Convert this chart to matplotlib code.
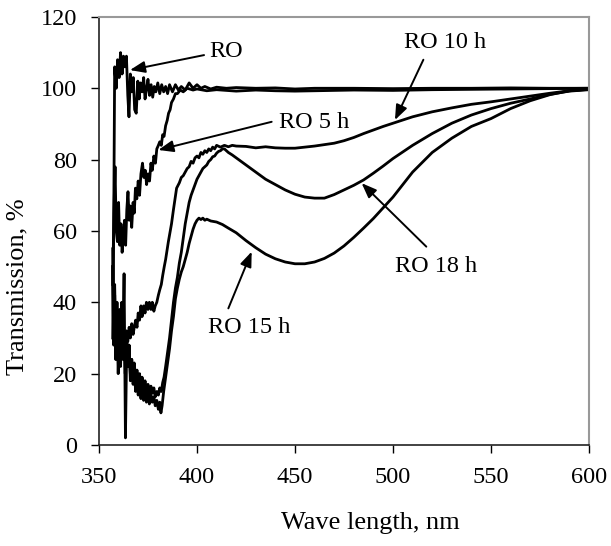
import matplotlib
matplotlib.use("Agg")
import matplotlib.pyplot as plt
import numpy as np

plt.rcParams['font.family'] = ['Liberation Serif', 'DejaVu Serif']

# --- RO (as received) ---
ro_x = [357, 357.5, 358, 358.8, 359.5, 360.3, 361, 361.8, 362.5, 363.2, 364, 364.7, 365.3,
        366, 366.8, 367.5, 368.2, 369, 369.8, 370.5, 371.2, 372, 372.8, 373.5, 374.3, 375,
        375.8, 376.6, 377.4, 378.2, 379, 380, 381, 382, 383, 384, 385, 386, 387.5, 389,
        390.5, 392, 394, 396, 398, 400, 402, 404, 407, 410, 415, 420, 430, 440, 450, 460,
        480, 500, 520, 540, 560, 580, 600]
ro_y = [30, 60, 106, 100, 108, 103, 110, 104, 109, 106, 109, 98, 92,
        104, 99, 103, 94, 93, 102, 97, 101.5, 99, 103, 97, 100, 102.5,
        98, 101, 97.5, 100.5, 99, 101.5, 98.5, 101, 99, 100.5, 98.5, 101, 99, 101,
        99.5, 100.5, 99.5, 101.5, 100, 101, 100, 100.5, 99.8, 100.3, 100, 100.2, 100, 100.1, 99.8, 100,
        100, 99.9, 100, 100, 100.1, 100, 100]

# --- RO 5 h ---
ro5_x = [357, 357.6, 358.2, 358.8, 359.4, 360, 360.6, 361.2, 361.8, 362.4, 363, 363.6, 364.2,
         364.8, 365.4, 366, 366.7, 367.4, 368, 368.6, 369.3, 370, 370.7, 371.4, 372.2, 372.9,
         373.6, 374.3, 375, 375.8, 376.5, 377.2, 378, 378.8, 379.5, 380.3, 381, 381.8, 382.5,
         383.2, 384, 384.8, 385.5, 386.3, 387, 388, 389, 390, 391.5, 393, 395, 398, 400, 405,
         410, 420, 430, 440, 450, 460, 480, 500, 520, 540, 560, 580, 600]
ro5_y = [45, 65, 78, 60, 57, 68, 56, 62, 54, 58, 63, 56, 66,
         71, 63, 67, 61, 68, 65, 72, 69, 74, 70, 76, 79, 75,
         77, 73, 76, 74, 79, 77, 81, 79, 83, 84, 85, 84, 87,
         86.5, 89.5, 91, 93, 94, 96, 97, 98.5, 98.5, 99.5, 99, 100, 99.5, 99.8, 99.3,
         99.6, 99.2, 99.5, 99.3, 99.2, 99.3, 99.5, 99.4, 99.6, 99.7, 99.8, 99.9, 100]

# --- RO 10 h ---
ro10_x = [357, 357.5, 358, 358.6, 359.2, 359.8, 360.4, 361, 361.6, 362.2, 362.8, 363.4, 364,
          364.7, 365.4, 366, 366.7, 367.4, 368, 368.7, 369.4, 370, 370.7, 371.4, 372, 372.8,
          373.5, 374.2, 375, 375.7, 376.5, 377.2, 378, 378.7, 379.5, 380.3, 381, 381.8, 382.5,
          383.3, 384, 385.4, 387, 388, 389.6, 391, 392, 393, 394, 395, 396, 397, 398, 399, 400,
          401, 402, 403, 404, 405, 406, 407, 408, 409, 410, 412, 414, 416, 418, 420, 425, 430,
          435, 440, 445, 450, 455, 460, 465, 470, 475, 480, 485, 490, 495, 500, 510, 520, 530,
          540, 550, 560, 570, 580, 590, 600]
ro10_y = [50, 28, 40, 24, 35, 27, 38, 30, 33, 27, 31, 26, 32,
          29, 33, 30, 34, 31, 33, 35, 33, 37, 35, 39, 36, 39,
          37, 40, 38, 40, 38, 40, 37.5, 39, 40, 42, 43.5, 45, 47.5,
          50, 52, 57, 62, 66, 72, 73.5, 75, 75.5, 76.5, 77.5, 78, 79.5, 79, 80.5, 81,
          80.5, 82, 81.5, 82.5, 82, 83, 82.5, 83.5, 83, 84, 83.5, 84, 83.6, 84, 83.8, 83.7, 83.3,
          83.6, 83.3, 83.2, 83.2, 83.5, 83.8, 84.2, 84.6, 85.3, 86.2, 87.3, 88.3, 89.3, 90.2, 92, 93.4, 94.5,
          95.5, 96.2, 97, 97.8, 98.6, 99.3, 99.7]

# --- RO 15 h ---
ro15_x = [357, 357.5, 358, 358.6, 359.2, 359.8, 360.4, 361, 361.6, 362.2, 362.8, 363.5, 364.2,
          364.8, 365.4, 366, 366.7, 367.4, 368, 368.7, 369.4, 370, 370.7, 371.4, 372, 372.8,
          373.5, 374.2, 375, 375.7, 376.5, 377.2, 378, 378.7, 379.5, 380.3, 381, 381.6, 382.2,
          383, 384, 385, 386, 387, 388, 389, 390, 391, 392, 393, 394, 395, 396, 397, 398, 399,
          400, 401, 402, 403, 404, 405, 407, 410, 413, 416, 420, 425, 430, 435, 440, 445, 450,
          455, 460, 465, 470, 475, 480, 485, 490, 495, 500, 510, 520, 530, 540, 550, 560, 570,
          580, 590, 600]
ro15_y = [50, 30, 42, 24, 36, 20, 32, 26, 40, 28, 48, 2, 30,
          22, 28, 18, 24, 17, 21, 15, 20, 14, 18, 13, 17, 12.5,
          16, 12, 15, 11.5, 14, 12, 13.5, 11, 12.5, 10, 12, 9, 11,
          15, 19, 23, 27, 32, 36, 41, 44, 46.5, 48.5, 50, 52, 54, 56.5, 58.5, 60.5, 62,
          63, 63.6, 63.2, 63.6, 63, 63.3, 62.8, 62.5, 61.8, 60.8, 59.5, 57.3, 55.3, 53.5, 52.2, 51.3, 50.8,
          50.8, 51.3, 52.3, 53.8, 55.8, 58.2, 60.8, 63.5, 66.5, 69.5, 76.5, 82, 86, 89.3, 91.5, 94.3, 96.5,
          98.2, 99.3, 99.8]

# --- RO 18 h ---
ro18_x = [357, 357.5, 358, 358.6, 359.2, 359.8, 360.4, 361, 361.6, 362.2, 362.8, 363.4, 364,
          364.7, 365.4, 366, 366.7, 367.4, 368, 368.7, 369.4, 370, 370.7, 371.4, 372, 372.8,
          373.5, 374.2, 375, 375.7, 376.5, 377.2, 378, 378.7, 379.5, 380.3, 381, 381.8, 382.5,
          383.2, 384, 385, 386, 387, 388, 389, 390, 391, 392, 393, 394, 395, 396, 397, 398, 399,
          400, 401, 402, 403, 404, 405, 406, 407, 408, 409, 410, 411, 412, 413, 414, 416, 418,
          420, 425, 430, 435, 440, 445, 450, 455, 460, 465, 470, 475, 480, 485, 490, 495, 500,
          510, 520, 530, 540, 550, 560, 570, 580, 590, 600]
ro18_y = [55, 35, 45, 28, 40, 25, 35, 22, 32, 24, 30, 20, 28,
          22, 27, 20, 24, 19, 23, 18, 21, 17, 20, 16, 19, 15.5,
          18, 15, 17, 14, 16.5, 14.5, 16, 13.5, 15, 14, 16, 15, 17.5,
          19, 22, 26, 30, 35, 40, 44, 47, 51, 54, 58, 62, 65, 68, 70, 71.5, 73,
          74.5, 75.5, 76.5, 77.5, 78, 78.5, 79.5, 80, 80.8, 81, 81.8, 82.3, 82.5, 83, 83, 82, 81.3,
          80.5, 78.5, 76.5, 74.5, 73, 71.5, 70.3, 69.5, 69.2, 69.2, 70.2, 71.5, 72.8, 74.3, 76.2, 78.2, 80.3,
          84, 87.3, 90.2, 92.5, 94.3, 95.8, 97, 98.3, 99.2, 99.6]

# labels: (text, text pos, arrow tail, arrow tip)
labels = ['RO', 'RO 5 h', 'RO 10 h', 'RO 15 h', 'RO 18 h']
label_pos = [(414.8, 110.2), (459.7, 90.3), (526.5, 112.7), (426.5, 32.8), (522, 50)]
arrow_tail = [(403.6, 109.3), (438.1, 90.6), (515.5, 108), (416, 38.3), (517, 55.6)]
arrow_tip = [(365.8, 105.1), (380.3, 82.7), (501, 91.1), (427.9, 54.2), (484, 73.4)]

fig = plt.figure(figsize=(6.11, 5.46), dpi=100)
ax = fig.add_axes([0.162, 0.185, 0.802, 0.784])

for xs, ys in [(ro_x, ro_y), (ro5_x, ro5_y), (ro10_x, ro10_y), (ro15_x, ro15_y), (ro18_x, ro18_y)]:
    ax.plot(xs, ys, color='black', lw=2.0, solid_joinstyle='round')

for txt, pos, tail, tip in zip(labels, label_pos, arrow_tail, arrow_tip):
    ax.text(pos[0], pos[1], txt, fontsize=17.5, ha='center', va='center')
    ax.annotate('', xy=tip, xytext=tail,
                arrowprops=dict(arrowstyle='-|>,head_length=0.9,head_width=0.35',
                                color='black', lw=1.4, shrinkA=0, shrinkB=0))

ax.set_xlim(350, 600)
ax.set_ylim(0, 120)
ax.set_xticks(np.arange(350, 601, 50))
ax.set_yticks(np.arange(0, 121, 20))
ax.tick_params(direction='out', length=6, width=1, labelsize=17.5, pad=10)

for side in ['top', 'right']:
    ax.spines[side].set_color('#999999')
    ax.spines[side].set_linewidth(1.5)
for side in ['left', 'bottom']:
    ax.spines[side].set_color('#222222')
    ax.spines[side].set_linewidth(1.2)

ax.set_xlabel('Wave length, nm', fontsize=19)
ax.set_ylabel('Transmission, %', fontsize=19)
ax.xaxis.label.set_va('center')
ax.yaxis.label.set_va('center')
ax.xaxis.set_label_coords(0.553, -0.182)
ax.yaxis.set_label_coords(-0.167, 0.369)

fig.savefig('out.png', dpi=100)
